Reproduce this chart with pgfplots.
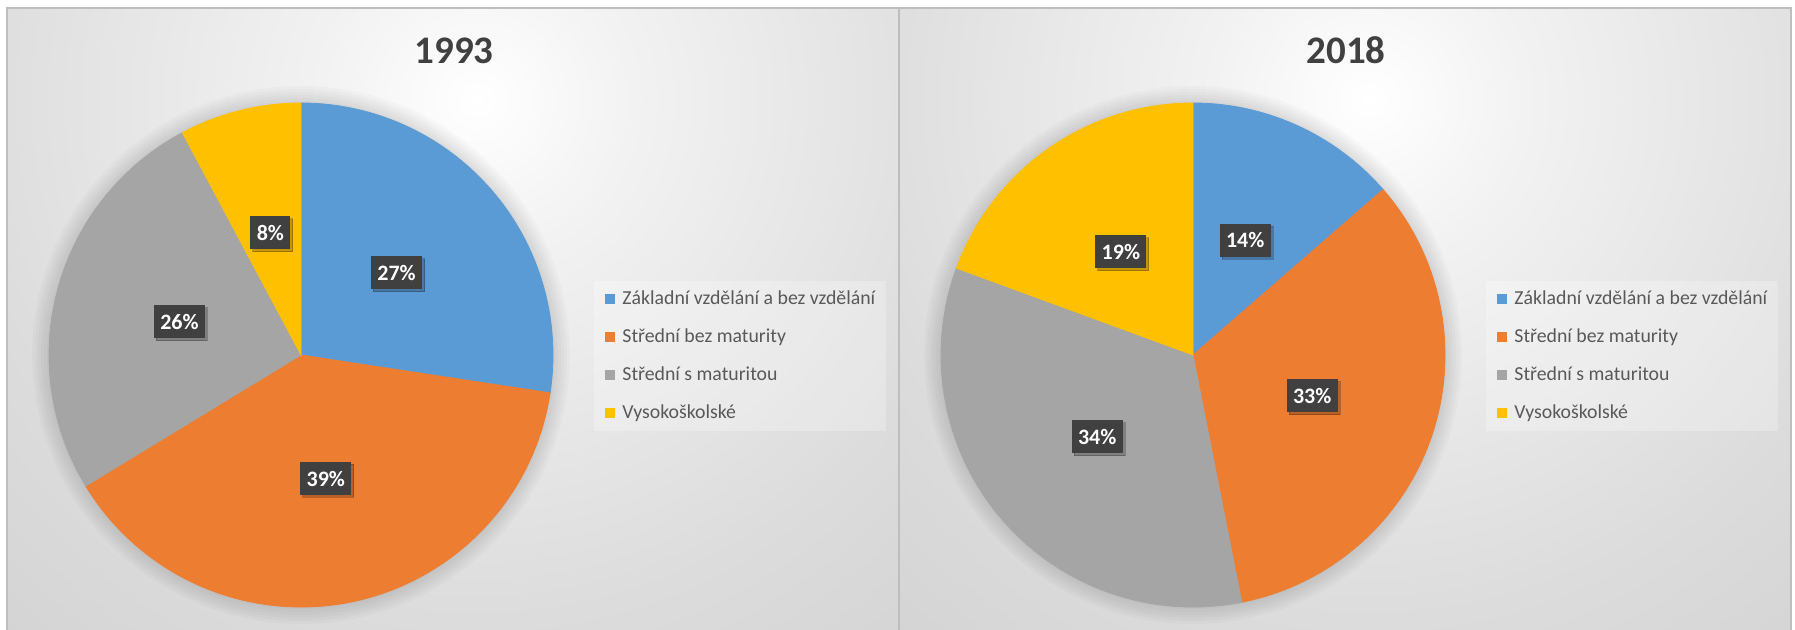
\documentclass[border=0pt]{standalone}
\usepackage{fontspec}
\setmainfont{Carlito}
\usepackage{pgfplots}
\pgfplotsset{compat=1.18}
\usepackage{pgfplotstable}
\usetikzlibrary{shadows}

\definecolor{cblue}{HTML}{5B9BD5}
\definecolor{corange}{HTML}{ED7D31}
\definecolor{cgray}{HTML}{A5A5A5}
\definecolor{cyellow}{HTML}{FFC000}
\definecolor{labbox}{HTML}{404040}
\definecolor{txtgray}{HTML}{595959}
\definecolor{titlegray}{HTML}{404040}
\definecolor{panelline}{HTML}{BEBEBE}
\definecolor{bgA}{HTML}{F2F2F2}
\definecolor{bgB}{HTML}{DCDCDC}
\definecolor{bgC}{HTML}{CCCCCC}
\definecolor{bgD}{HTML}{C4C4C4}
\pgfdeclareradialshading{panelbg}{\pgfpoint{0bp}{0bp}}{color(0bp)=(white); color(6bp)=(bgA); color(20bp)=(bgB); color(35bp)=(bgC); color(50bp)=(bgD)}

% slice table: start = cumulative share before the slice, val = share, lab = printed label
\pgfplotstableread{
x y start val lab col
0 0 0    27.4 27 cblue
0 0 27.4 38.9 39 corange
0 0 66.3 25.9 26 cgray
0 0 92.2 7.8  8  cyellow
}\pieA
\pgfplotstableread{
x y start val lab col
0 0 0    13.6 14 cblue
0 0 13.6 33.3 33 corange
0 0 46.9 33.7 34 cgray
0 0 80.6 19.4 19 cyellow
}\pieB

% fetch the row of the slice being drawn
\newcommand\getslice[1]{%
  \pgfplotstablegetelem{\sliceidx}{start}\of{#1}\let\slicestart\pgfplotsretval
  \pgfplotstablegetelem{\sliceidx}{val}\of{#1}\let\sliceval\pgfplotsretval
  \pgfplotstablegetelem{\sliceidx}{lab}\of{#1}\let\slicelab\pgfplotsretval
  \pgfplotstablegetelem{\sliceidx}{col}\of{#1}\let\slicecol\pgfplotsretval}

\tikzset{lab/.style={fill=labbox, text=white, font=\bfseries\fontsize{11}{13}\selectfont,
  inner xsep=3.2pt, inner ysep=0pt, minimum height=16.5pt,
  drop shadow={shadow xshift=1.2pt, shadow yshift=-1.2pt, opacity=0.22, fill=black}}}

\pgfplotsset{
  legend image code/.code={\fill[#1, fill opacity=1] (0pt,-2.5pt) rectangle (5pt,2.5pt);},
  pieaxis/.style={hide axis, clip=false, x=0.5pt, y=0.5pt,
    xmin=-260, xmax=260, ymin=-260, ymax=260, anchor=origin,
    legend cell align=left,
    legend style={at={(1.0635,0.644)}, anchor=north west, draw=none,
      fill=white, fill opacity=0.25, text opacity=1, text=txtgray,
      font=\fontsize{9.9}{11}\selectfont, inner xsep=5.5pt, inner ysep=5pt,
      row sep=11pt, column sep=3.5pt,
      nodes={inner sep=0pt, text height=7pt, text depth=1pt}}},
  slicedata/.style={forget plot, scatter, only marks, mark=*, mark size=0pt, point meta=0,
    visualization depends on={value \coordindex\as\sliceidx}},
  slices/.style={slicedata,
    scatter/@pre marker code/.code={%
      \getslice{#1}%
      \pgfmathsetmacro\angA{90-3.6*\slicestart}%
      \pgfmathsetmacro\angB{90-3.6*(\slicestart+\sliceval)}%
      \fill[\slicecol] (0pt,0pt) -- (\angA:126pt) arc[start angle=\angA, end angle=\angB, radius=126pt] -- cycle;
      \begin{scope}[opacity=0]},
    scatter/@post marker code/.code={\end{scope}}},
  slicelabels/.style={slicedata,
    scatter/@pre marker code/.code={%
      \getslice{#1}%
      \pgfmathsetmacro\angM{90-3.6*(\slicestart+0.5*\sliceval)}%
      \node[lab] at (\angM:63pt) {\slicelab\%};
      \begin{scope}[opacity=0]},
    scatter/@post marker code/.code={\end{scope}}},
}

\begin{document}
\begin{tikzpicture}[x=0.5pt, y=-0.5pt]
\useasboundingbox (0,0) rectangle (1795,630);
\fill[white] (0,0) rectangle (1795,630);
% panels
\begin{scope}
  \clip (7,8) rectangle (899,640);
  \shade[shading=panelbg] (-173,-550) rectangle (1127,750);
\end{scope}
\begin{scope}
  \clip (899,8) rectangle (1791,640);
  \shade[shading=panelbg] (719,-550) rectangle (2019,750);
\end{scope}
\draw[panelline, line width=1pt] (7,640) -- (7,8) -- (1791,8) -- (1791,640);
\draw[panelline, line width=0.8pt] (899,8) -- (899,640);
% soft shadow round the pies
\foreach \cx in {301,1193}{
  \foreach \r in {127,128.5,130,131.5,133,134.5}{
    \fill[black, opacity=0.018] (\cx,355) circle[radius=\r pt];
  }
}
% titles
\node[anchor=base, text=titlegray, font=\bfseries\fontsize{19.5}{22}\selectfont] at (454,64) {1993};
\node[anchor=base, text=titlegray, font=\bfseries\fontsize{19.5}{22}\selectfont] at (1346,64) {2018};

% pie centres: (301px,355px) and (1193px,355px), 1px = 0.5pt
\begin{axis}[pieaxis, at={(150.5pt,-177.5pt)}]
\addplot[slices=\pieA] table[x=x, y=y] {\pieA};
\addplot[slicelabels=\pieA] table[x=x, y=y] {\pieA};
\addlegendimage{fill=cblue, draw=none}\addlegendentry{Základní vzdělání a bez vzdělání}
\addlegendimage{fill=corange, draw=none}\addlegendentry{Střední bez maturity}
\addlegendimage{fill=cgray, draw=none}\addlegendentry{Střední s maturitou}
\addlegendimage{fill=cyellow, draw=none}\addlegendentry{Vysokoškolské}
\end{axis}

\begin{axis}[pieaxis, at={(596.5pt,-177.5pt)}]
\addplot[slices=\pieB] table[x=x, y=y] {\pieB};
\addplot[slicelabels=\pieB] table[x=x, y=y] {\pieB};
\addlegendimage{fill=cblue, draw=none}\addlegendentry{Základní vzdělání a bez vzdělání}
\addlegendimage{fill=corange, draw=none}\addlegendentry{Střední bez maturity}
\addlegendimage{fill=cgray, draw=none}\addlegendentry{Střední s maturitou}
\addlegendimage{fill=cyellow, draw=none}\addlegendentry{Vysokoškolské}
\end{axis}
\end{tikzpicture}
\end{document}
